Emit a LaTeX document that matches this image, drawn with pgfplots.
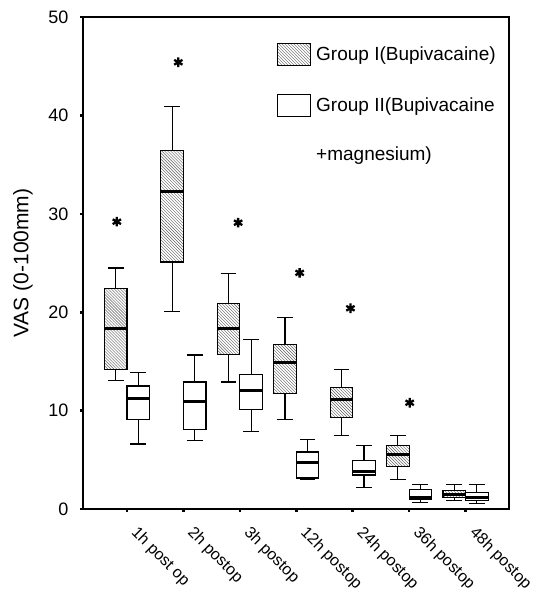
\documentclass[border=0pt]{standalone}
\usepackage{fontspec}
\setmainfont{Liberation Sans}
\usepackage{pgfplots}
\pgfplotsset{compat=1.18}
\usepgfplotslibrary{statistics}
\usetikzlibrary{patterns}

\pgfplotsset{
  grpI/.style={draw=black,line width=1.2bp,solid,pattern=north west lines,pattern color=gray!75!black,
    boxplot/box extend=0.4,boxplot/whisker extend=0.28},
  grpII/.style={draw=black,line width=1.2bp,solid,fill=white,
    boxplot/box extend=0.4,boxplot/whisker extend=0.28},
}

\begin{document}
\begin{tikzpicture}
\begin{axis}[
  scale only axis,width=426bp,height=492bp,
  xmin=0.22,xmax=7.77,ymin=0,ymax=50,
  clip=false,
  xtick={1,...,7},
  xticklabels={1h post op,2h postop,3h postop,12h postop,24h postop,36h postop,48h postop},
  ytick={0,10,...,50},
  tick pos=left,tick align=outside,major tick length=3bp,
  tick style={line width=2.6bp,black},
  axis line style={line width=1.4bp},
  /pgf/number format/assume math mode=true,
  ticklabel style={font=\fontsize{18bp}{21bp}\selectfont},
  xticklabel style={font=\fontsize{16bp}{19bp}\selectfont,xshift=12bp,yshift=-8.5bp,rotate=-45,anchor=north west},
  yticklabel style={xshift=-8bp},
  ylabel={VAS (0-100mm)},
  ylabel style={font=\fontsize{21bp}{24bp}\selectfont,at={(axis description cs:-0.141,0.5)},anchor=center},
  legend style={draw=none,fill=none,at={(axis description cs:0.455,0.948)},anchor=north west,
    font=\fontsize{19bp}{22bp}\selectfont,row sep=28bp,column sep=3bp,inner sep=0pt},
  legend cell align=left,
  boxplot/draw direction=y,
  boxplot/every median/.style={line width=3bp},
]
\addlegendimage{legend image code/.code={\draw[line width=1.2bp,pattern=north west lines,pattern color=gray!75!black] (0bp,-11bp) rectangle (33bp,11bp);}}
\addlegendentry{Group I(Bupivacaine)}
\addlegendimage{legend image code/.code={\draw[line width=1.2bp] (0bp,-11bp) rectangle (33bp,11bp);}}
\addlegendentry{Group II(Bupivacaine}
\addlegendimage{empty legend}
\addlegendentry{+magnesium)}

% Group I (Bupivacaine)
\addplot[grpI,forget plot,boxplot prepared={draw position=0.8,lower whisker=13.1,lower quartile=14.2,median=18.3,upper quartile=22.4,upper whisker=24.5}] coordinates {};
\addplot[grpI,forget plot,boxplot prepared={draw position=1.8,lower whisker=20.1,lower quartile=25.1,median=32.3,upper quartile=36.4,upper whisker=40.9}] coordinates {};
\addplot[grpI,forget plot,boxplot prepared={draw position=2.8,lower whisker=12.9,lower quartile=15.7,median=18.3,upper quartile=20.9,upper whisker=23.95}] coordinates {};
\addplot[grpI,forget plot,boxplot prepared={draw position=3.8,lower whisker=9.1,lower quartile=11.75,median=14.9,upper quartile=16.7,upper whisker=19.45}] coordinates {};
\addplot[grpI,forget plot,boxplot prepared={draw position=4.8,lower whisker=7.45,lower quartile=9.3,median=11.1,upper quartile=12.35,upper whisker=14.2}] coordinates {};
\addplot[grpI,forget plot,boxplot prepared={draw position=5.8,lower whisker=3.0,lower quartile=4.3,median=5.5,upper quartile=6.45,upper whisker=7.45}] coordinates {};
\addplot[grpI,forget plot,boxplot prepared={draw position=6.8,lower whisker=0.9,lower quartile=1.2,median=1.5,upper quartile=1.85,upper whisker=2.5}] coordinates {};

% Group II (Bupivacaine + magnesium)
\addplot[grpII,forget plot,boxplot prepared={draw position=1.2,lower whisker=6.6,lower quartile=9.1,median=11.25,upper quartile=12.5,upper whisker=13.85}] coordinates {};
\addplot[grpII,forget plot,boxplot prepared={draw position=2.2,lower whisker=6.95,lower quartile=8.1,median=10.95,upper quartile=12.9,upper whisker=15.65}] coordinates {};
\addplot[grpII,forget plot,boxplot prepared={draw position=3.2,lower whisker=7.9,lower quartile=10.1,median=12.05,upper quartile=13.7,upper whisker=17.2}] coordinates {};
\addplot[grpII,forget plot,boxplot prepared={draw position=4.2,lower whisker=3.05,lower quartile=3.15,median=4.7,upper quartile=5.8,upper whisker=7.1}] coordinates {};
\addplot[grpII,forget plot,boxplot prepared={draw position=5.2,lower whisker=2.15,lower quartile=3.45,median=3.8,upper quartile=4.95,upper whisker=6.45}] coordinates {};
\addplot[grpII,forget plot,boxplot prepared={draw position=6.2,lower whisker=0.7,lower quartile=1.0,median=1.2,upper quartile=1.95,upper whisker=2.5}] coordinates {};
\addplot[grpII,forget plot,boxplot prepared={draw position=7.2,lower whisker=0.55,lower quartile=0.9,median=1.2,upper quartile=1.7,upper whisker=2.5}] coordinates {};

% significance stars
\addplot[only marks,forget plot,mark=asterisk,mark size=4.8bp,mark options={line width=2.3bp,black}] coordinates {
  (0.82,29.2) (1.91,45.4) (2.97,29.1) (4.06,24.0) (4.96,20.4) (6.01,10.8)
};

% page frame corners
\coordinate (bbA) at (rel axis cs:-0.1948,-0.1768);
\coordinate (bbB) at (rel axis cs:1.066,1.0346);
\end{axis}
\pgfresetboundingbox
\path[use as bounding box] (bbA) rectangle (bbB);
\end{tikzpicture}
\end{document}
